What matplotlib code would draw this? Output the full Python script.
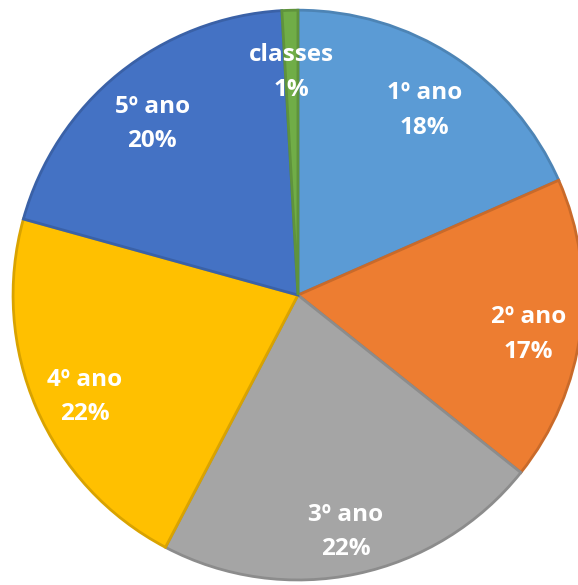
import matplotlib.pyplot as plt
import numpy as np
from matplotlib.colors import to_rgb

# dados
nomes = ["1º ano", "2º ano", "3º ano", "4º ano", "5º ano", "classes"]
valores = [18.4, 17.3, 22.0, 21.6, 19.8, 0.9]
cores = ["#5B9BD5", "#ED7D31", "#A5A5A5", "#FFC000", "#4472C4", "#70AD47"]

fig = plt.figure(figsize=(5.78, 5.85), dpi=100)
ax = fig.add_axes([0.0225, 0.0086, 0.986, 0.974])

wedges, _ = ax.pie(valores, colors=cores, startangle=90, counterclock=False,
                   radius=1, wedgeprops=dict(linewidth=2))
for w, c in zip(wedges, cores):
    w.set_edgecolor(tuple(0.85*np.array(to_rgb(c))))

for w, nome, v in zip(wedges, nomes, valores):
    ang = np.deg2rad((w.theta1 + w.theta2)/2)
    d = 0.815
    ax.annotate(f"{nome}\n{round(v)}%", (d*np.cos(ang), d*np.sin(ang)),
                xytext=(0, -7), textcoords="offset points",
                ha="center", va="center", color="white", fontsize=17.5,
                fontweight="bold", family="Open Sans", linespacing=1.6)

ax.set_xlim(-1, 1)
ax.set_ylim(-1, 1)
ax.set_aspect("equal")
ax.axis("off")

fig.savefig("out.png", dpi=100)
